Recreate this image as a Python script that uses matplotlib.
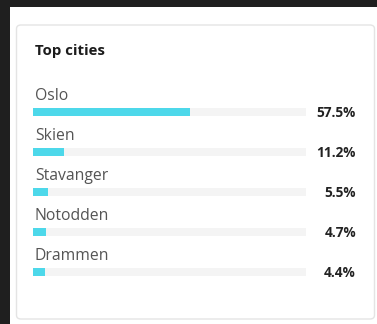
import matplotlib
matplotlib.use("Agg")
import matplotlib.pyplot as plt
from matplotlib.patches import FancyBboxPatch, Rectangle

cities = ["Oslo", "Skien", "Stavanger", "Notodden", "Drammen"]
shares = [57.5, 11.2, 5.5, 4.7, 4.4]
title = "Top cities"

W, H = 377, 324
plt.rcParams["font.family"] = ["Open Sans", "DejaVu Sans"]

fig = plt.figure(figsize=(W / 100, H / 100), dpi=100)
fig.patch.set_facecolor("#1f1f1f")

def fx(px):
    return px / W

def fy(py):
    return 1 - py / H

# page background and card
fig.patches.append(Rectangle((fx(10), 0), 1 - fx(10), fy(7), transform=fig.transFigure,
                             facecolor="white", edgecolor="none", zorder=0))
fig.patches.append(FancyBboxPatch((fx(16.5), fy(319)), fx(358), (319 - 25) / H,
                                  boxstyle="round,pad=0,rounding_size=0.012",
                                  transform=fig.transFigure, facecolor="white",
                                  edgecolor="#e4e4e4", linewidth=1.0, zorder=1))

fig.text(fx(35), fy(51), title, fontsize=10.8, fontweight="bold", color="#1c1c1c",
         ha="left", va="center", zorder=3)

# bar area: one row every 40 px, first row centred at y=112 px
ax = fig.add_axes([fx(33), fy(292), fx(306 - 33), (292 - 92) / H])
ax.set_zorder(5)
ax.patch.set_visible(False)
ax.set_xlim(0, 100)
ax.set_ylim(len(cities) - 0.5, -0.5)
ax.axis("off")

ypos = list(range(len(cities)))
ax.barh(ypos, [100] * len(cities), height=0.19, color="#f4f4f4", zorder=1)
ax.barh(ypos, shares, height=0.19, color="#4dd8ea", zorder=2)

for i, (city, val) in enumerate(zip(cities, shares)):
    ax.text(0.7, i - 0.39, city, fontsize=11.3, color="#555555", ha="left", va="center",
            clip_on=False)
    ax.text(118.3, i + 0.03, f"{val}%", fontsize=9.8, fontweight="bold", color="#222222",
            ha="right", va="center", clip_on=False)

fig.savefig("out.png", dpi=100, facecolor=fig.get_facecolor())
